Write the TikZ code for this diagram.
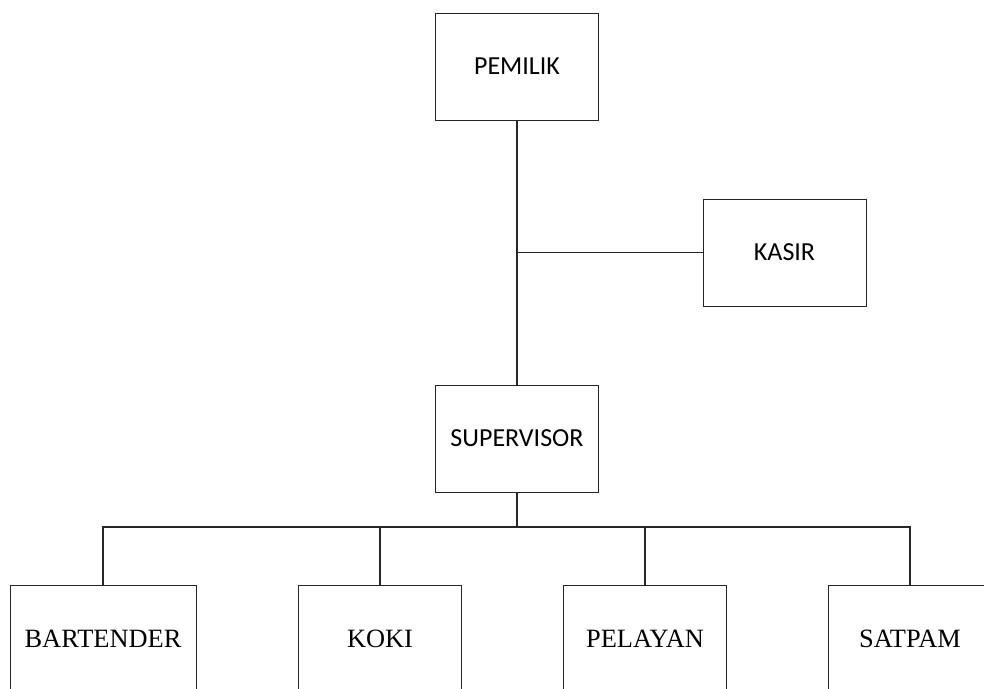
\documentclass[tikz,border=0pt]{standalone}
\usepackage{fontspec}
\setmainfont{Liberation Serif}
\newfontfamily\calibrifont{Carlito}
\usetikzlibrary{calc}

\tikzset{
  topbox/.style={draw=black!85, line width=1pt, minimum width=163pt, minimum height=107pt,
    inner sep=0pt, font=\calibrifont\fontsize{26}{30}\selectfont},
  staffbox/.style={draw=black!85, line width=1pt, minimum width=163pt, minimum height=107pt,
    inner sep=0pt, font=\fontsize{26.4}{31}\selectfont},
  conn/.style={draw=black!85, line width=1.7pt}
}

\begin{document}
\begin{tikzpicture}[x=1pt, y=1pt]
        % page frame
        \useasboundingbox (0,0) rectangle (984,-688);
        \clip (0,0) rectangle (984,-688);

        % top of the chart
        \node[topbox] (pemilik) at (517,-66.5) {PEMILIK};
        \node[topbox] (kasir) at (784.5,-252.5) {KASIR};
        \node[topbox] (supervisor) at (517,-438.5) {SUPERVISOR};

        % staff under the supervisor
        \node[staffbox, minimum width=186pt] (bartender) at (103,-638.5) {BARTENDER};
        \node[staffbox] (koki) at (380,-638.5) {KOKI};
        \node[staffbox] (pelayan) at (645,-638.5) {PELAYAN};
        \node[staffbox] (satpam) at (910,-638.5) {SATPAM};

        % connectors
        \coordinate (kasirjoin) at (517,-252.5);
        \coordinate (bus) at (517,-527);
        \draw[conn] (pemilik.south) -- (supervisor.north);
        \draw[conn] (kasirjoin) -- (kasir.west);
        \draw[conn] (supervisor.south) -- (bus);
        \draw[conn] (bartender.north) |- (bus) -| (satpam.north);
        \draw[conn] (koki.north) -- (koki.north |- bus);
        \draw[conn] (pelayan.north) -- (pelayan.north |- bus);

    \end{tikzpicture}
\end{document}
